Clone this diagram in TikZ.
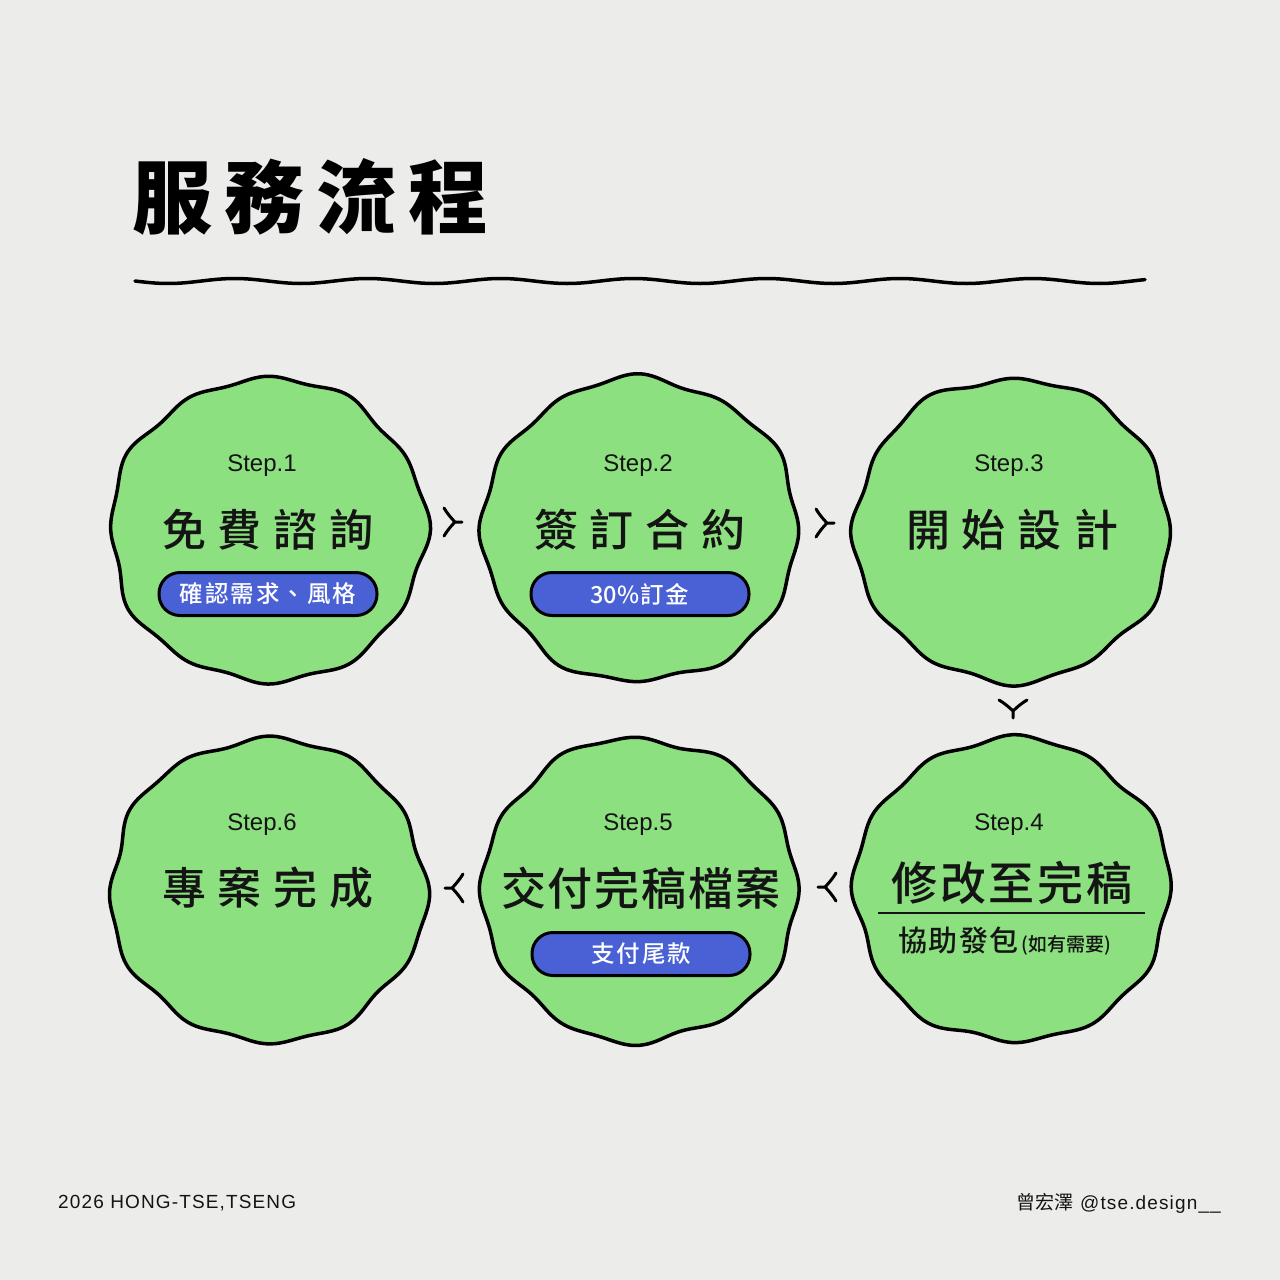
\documentclass[tikz,border=0pt]{standalone}
\usepackage{fontspec}
\setmainfont{Liberation Sans}
\newfontfamily\cjk{Noto Sans CJK TC}
\newfontfamily\cjkm{Noto Sans CJK TC Medium}
\newfontfamily\footfont{Liberation Sans}[LetterSpace=6]
\usetikzlibrary{calc}
\definecolor{bg}{HTML}{ECECEA}
\definecolor{blobgreen}{HTML}{8DE07F}
\definecolor{pillblue}{HTML}{4A60D5}
\definecolor{ink}{HTML}{141414}
\newcommand\blobat[3]{%
  \filldraw[blobline] plot[smooth cycle, domain=0:357, samples=120, variable=\t]
    ({#1+(157.5+2.4*cos(12*\t)+1.8*cos(5*\t+#3)+1.2*cos(7*\t+2*#3))*cos(\t)},
     {#2+(151.5+2.4*cos(12*\t)+1.8*cos(5*\t+#3)+1.2*cos(7*\t+2*#3))*sin(\t)});}
\newcommand\chevat[2]{%
  \draw[chevline, shift={(#1)}, rotate=#2]
    (-11,-14) .. controls (-8,-9) and (-4,-4) .. (0,0)
    .. controls (-4,4) and (-8,9) .. (-11,14)
    (0,0) -- (7,0);}
\begin{document}
\begin{tikzpicture}[x=1pt,y=-1pt,
  blobline/.style={fill=blobgreen, draw=black, line width=3.5pt, line join=round},
  chevline/.style={draw=black, line width=3pt, line cap=round, line join=round},
  steplbl/.style={font=\fontsize{24}{24}\selectfont, text=ink, inner sep=0pt},
  maintxt/.style={font=\cjkm\fontsize{44}{44}\selectfont, text=ink, inner sep=0pt},
  pill/.style={draw=black, fill=pillblue, line width=3pt, rounded corners=21pt,
    minimum width=218pt, minimum height=43pt, inner sep=0pt,
    text=white, font=\cjkm\fontsize{23.5}{23.5}\selectfont},
  foot/.style={font=\footfont\fontsize{19}{19}\selectfont, text=ink, inner sep=0pt}
]
\useasboundingbox (0,0) rectangle (1280,1280);
\fill[bg] (0,0) rectangle (1280,1280);

% title
\node[font=\cjk\bfseries\fontsize{80}{80}\selectfont, text=black, anchor=west, inner sep=0pt]
  (title) at (132,197) {服\kern12pt務\kern12pt流\kern12pt程};
\draw[line width=3.5pt, line cap=round] plot[smooth, domain=135:1145, samples=160, variable=\t]
  (\t, {281+2.5*sin((\t-135)*2.7068)});

% blob centres
\coordinate (b1) at (268,530);
\coordinate (b2) at (640,530);
\coordinate (b3) at (1012,530);
\coordinate (b4) at (1012,890);
\coordinate (b5) at (640,890);
\coordinate (b6) at (268,890);

\blobat{268}{530}{20}
\blobat{640}{530}{140}
\blobat{1012}{530}{260}
\blobat{1012}{890}{80}
\blobat{640}{890}{200}
\blobat{268}{890}{320}

% step 1
\node[steplbl] (s1) at ($(b1)+(-6,-64)$) {Step.1};
\node[maintxt] (t1) at ($(b1)+(0,0)$) {免\kern12pt費\kern12pt諮\kern12pt詢};
\node[pill] (p1) at ($(b1)+(0,64)$) {確\kern2pt認\kern2pt需\kern2pt求\kern2pt、\kern2pt風\kern2pt格};
% step 2
\node[steplbl] (s2) at ($(b2)+(-2,-64)$) {Step.2};
\node[maintxt] (t2) at ($(b2)+(0,0)$) {簽\kern12pt訂\kern12pt合\kern12pt約};
\node[pill] (p2) at ($(b2)+(0,64)$) {30\%\kern1pt 訂\kern2pt金};
% step 3
\node[steplbl] (s3) at ($(b3)+(-3,-64)$) {Step.3};
\node[maintxt] (t3) at ($(b3)+(0,0)$) {開\kern12pt始\kern12pt設\kern12pt計};
% step 4
\node[steplbl] (s4) at ($(b4)+(-3,-65)$) {Step.4};
\node[maintxt, font=\cjkm\fontsize{46}{46}\selectfont] (t4) at ($(b4)+(0,-7)$)
  {修\kern3pt改\kern3pt至\kern3pt完\kern3pt稿};
\draw[line width=1.3pt, draw=ink] ($(b4)+(-134,23)$) coordinate (l4a) -- ($(b4)+(133,23)$) coordinate (l4b);
\node[inner sep=0pt, text=ink, anchor=west] (u4) at ($(b4)+(-114,51)$)
  {\cjkm\fontsize{29}{29}\selectfont 協\kern1.5pt助\kern1.5pt發\kern1.5pt包\kern3pt\fontsize{19}{19}\selectfont (如有需要)};
% step 5
\node[steplbl] (s5) at ($(b5)+(-2,-65)$) {Step.5};
\node[maintxt, font=\cjkm\fontsize{45}{45}\selectfont] (t5) at ($(b5)+(1,-2)$)
  {交\kern2pt付\kern2pt完\kern2pt稿\kern2pt檔\kern2pt案};
\node[pill] (p5) at ($(b5)+(1,64)$) {支\kern2pt付\kern2pt尾\kern2pt款};
% step 6
\node[steplbl] (s6) at ($(b6)+(-6,-65)$) {Step.6};
\node[maintxt] (t6) at ($(b6)+(0,-2)$) {專\kern12pt案\kern12pt完\kern12pt成};

% chevrons between blobs
\path ($(b1)!0.5!(b2)+(1,-8)$) coordinate (a12);
\path ($(b2)!0.5!(b3)+(1,-7)$) coordinate (a23);
\path ($(b3)!0.5!(b4)+(1,1)$) coordinate (a34);
\path ($(b4)!0.5!(b5)+(-1,-3)$) coordinate (a45);
\path ($(b5)!0.5!(b6)+(-2,-2)$) coordinate (a56);
\chevat{a12}{0}
\chevat{a23}{0}
\chevat{a34}{-90}
\chevat{a45}{180}
\chevat{a56}{180}

% footer
\node[foot, anchor=west] (f1) at (58,1203) {2026 HONG-TSE,TSENG};
\node[foot, anchor=east] (f2) at (1221,1203) {{\cjk\fontsize{19}{19}\selectfont 曾宏澤}\kern7pt @tse.design\_\_};
\end{tikzpicture}
\end{document}
